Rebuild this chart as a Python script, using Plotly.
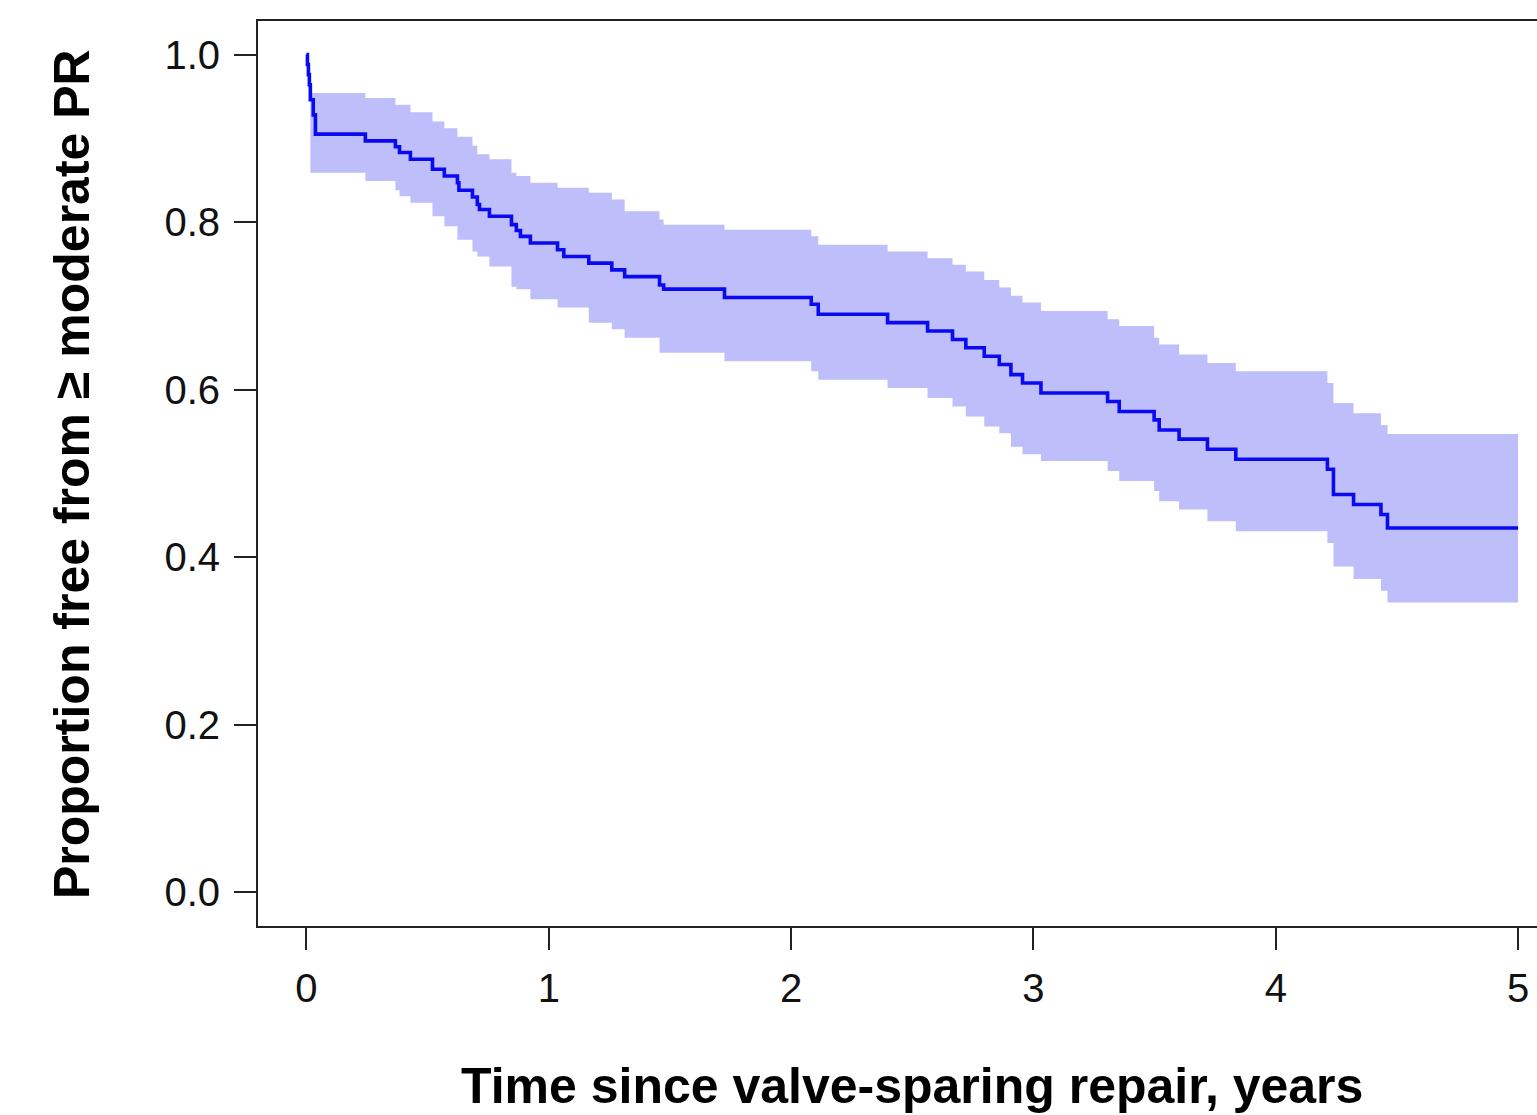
import plotly.graph_objects as go

# Kaplan-Meier estimate: event times (years), survival after each step, and 95% CI
times = [0.000, 0.004, 0.008, 0.012, 0.016, 0.028, 0.037, 0.243, 0.367, 0.384,
         0.429, 0.520, 0.569, 0.623, 0.629, 0.685, 0.705, 0.714, 0.755, 0.846,
         0.866, 0.883, 0.924, 1.036, 1.062, 1.165, 1.260, 1.313, 1.457, 1.474,
         1.725, 2.083, 2.112, 2.398, 2.563, 2.666, 2.721, 2.797, 2.859, 2.907,
         2.955, 3.031, 3.306, 3.354, 3.498, 3.519, 3.601, 3.718, 3.835, 4.213,
         4.238, 4.321, 4.434, 4.461, 5.000]
surv = [1.000, 0.988, 0.976, 0.964, 0.946, 0.928, 0.905, 0.897, 0.890, 0.883,
        0.875, 0.863, 0.855, 0.847, 0.838, 0.830, 0.821, 0.815, 0.807, 0.797,
        0.790, 0.783, 0.775, 0.767, 0.759, 0.751, 0.743, 0.735, 0.725, 0.720,
        0.710, 0.702, 0.690, 0.680, 0.670, 0.660, 0.650, 0.640, 0.630, 0.618,
        0.608, 0.596, 0.586, 0.574, 0.564, 0.552, 0.541, 0.529, 0.517, 0.505,
        0.475, 0.463, 0.451, 0.435, 0.435]
upper = [None, None, None, None, 0.954, 0.954, 0.954, 0.948, 0.940, 0.940,
         0.931, 0.920, 0.912, 0.902, 0.902, 0.891, 0.881, 0.881, 0.875, 0.859,
         0.855, 0.855, 0.847, 0.841, 0.841, 0.835, 0.827, 0.813, 0.803, 0.797,
         0.791, 0.783, 0.773, 0.765, 0.757, 0.749, 0.741, 0.731, 0.722, 0.712,
         0.704, 0.694, 0.684, 0.676, 0.662, 0.654, 0.642, 0.632, 0.622, 0.608,
         0.584, 0.572, 0.558, 0.547, 0.547]
lower = [None, None, None, None, 0.859, 0.859, 0.859, 0.849, 0.838, 0.831,
         0.823, 0.807, 0.795, 0.779, 0.779, 0.765, 0.759, 0.759, 0.747, 0.723,
         0.720, 0.720, 0.708, 0.698, 0.698, 0.680, 0.672, 0.662, 0.644, 0.644,
         0.634, 0.622, 0.612, 0.602, 0.590, 0.580, 0.568, 0.556, 0.548, 0.532,
         0.523, 0.515, 0.503, 0.491, 0.479, 0.467, 0.457, 0.443, 0.431, 0.417,
         0.389, 0.374, 0.360, 0.346, 0.346]

x_ticks = [0, 1, 2, 3, 4, 5]
y_ticks = [0.0, 0.2, 0.4, 0.6, 0.8, 1.0]
y_tick_text = ["0.0", "0.2", "0.4", "0.6", "0.8", "1.0"]

x_title = "Time since valve-sparing repair, years"
y_title = "Proportion free from \u2265 moderate PR"

band_t = [t for t, u in zip(times, upper) if u is not None]
band_u = [u for u in upper if u is not None]
band_l = [l for l in lower if l is not None]

FONT = "Liberation Sans, Arial, Helvetica, sans-serif"
band_col = "rgb(190,190,250)"

fig = go.Figure()
fig.add_trace(go.Scatter(x=band_t, y=band_l, mode="lines", line=dict(width=0, shape="hv", color=band_col),
                         hoverinfo="skip", showlegend=False))
fig.add_trace(go.Scatter(x=band_t, y=band_u, mode="lines", line=dict(width=0, shape="hv", color=band_col),
                         fill="tonexty", fillcolor=band_col, hoverinfo="skip", showlegend=False))
fig.add_trace(go.Scatter(x=times, y=surv, mode="lines", line=dict(width=3.6, shape="hv", color="#0A0AF2"),
                         showlegend=False))

axis_common = dict(showgrid=False, zeroline=False, showline=True, linewidth=2, linecolor="#222",
                   ticks="outside", ticklen=22, tickwidth=2, tickcolor="#222",
                   tickfont=dict(family=FONT, size=40, color="#111"))

fig.update_xaxes(range=[-0.2, 5.078], tickvals=x_ticks, ticktext=[str(v) for v in x_ticks],
                 mirror=True, ticklabelstandoff=4, **axis_common)
fig.update_yaxes(range=[-0.04, 1.04], tickvals=y_ticks, ticktext=y_tick_text,
                 mirror=False, ticklabelstandoff=6, **axis_common)

fig.add_annotation(text="<b>" + y_title + "</b>", xref="paper", yref="paper",
                   x=-0.1454, y=0.4994, xanchor="center", yanchor="middle", textangle=-90,
                   showarrow=False, font=dict(family=FONT, size=50, color="#000"))
fig.add_annotation(text="<b>" + x_title + "</b>", xref="paper", yref="paper",
                   x=0.511, y=-0.1768, xanchor="center", yanchor="middle",
                   showarrow=False, font=dict(family=FONT, size=50, color="#000"))

fig.update_layout(width=1537, height=1115, margin=dict(l=258, r=0, t=21, b=189),
                  paper_bgcolor="white", plot_bgcolor="white")

fig.write_html("out.html")
